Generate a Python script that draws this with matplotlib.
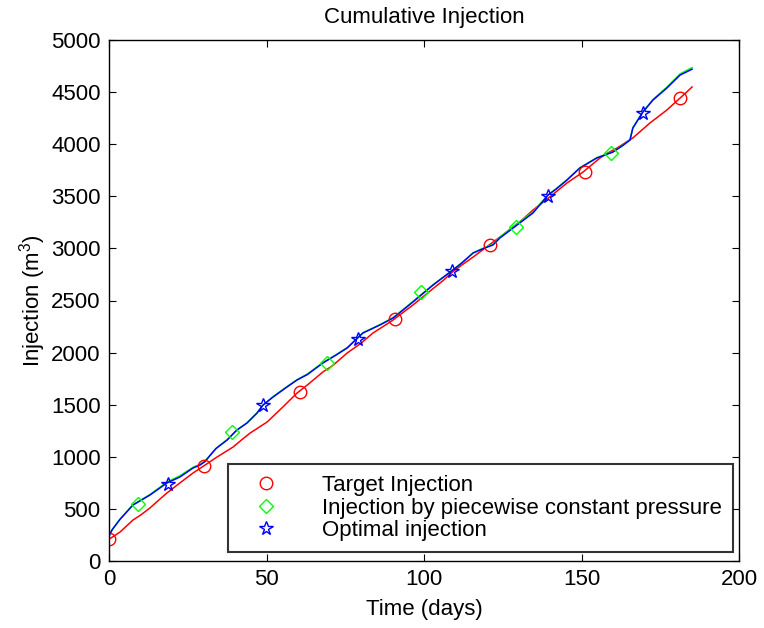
import matplotlib
matplotlib.use("Agg")
import matplotlib.pyplot as plt

plt.rcParams['font.family'] = ['Liberation Sans', 'DejaVu Sans']
plt.rcParams['mathtext.default'] = 'regular'

# ---- data ----
red_days = [0, 1, 3.5, 7.6, 10, 13, 16, 18.4, 22.5, 26.7, 30.5, 34.3, 39.4, 42, 44.8, 50.2,
            55.2, 59.7, 63, 67.9, 71, 75.6, 80, 83.8, 87, 90.2, 96.5, 102.9, 106, 109.2, 112,
            115.6, 121, 124.1, 128.3, 131, 134.6, 140, 145.4, 150.5, 155.9, 158, 161.3, 166.3,
            171.7, 174, 177.1, 181.3, 183, 185.1]
red_vals = [211, 228, 278, 393, 440, 509, 590, 653, 749, 845, 921, 998, 1094, 1160, 1228, 1334,
            1478, 1612, 1690, 1814, 1875, 1996, 2090, 2188, 2250, 2313, 2457, 2615, 2690, 2778, 2840,
            2917, 3040, 3109, 3205, 3270, 3368, 3495, 3628, 3733, 3868, 3910, 3964, 4060,
            4203, 4256, 4328, 4443, 4490, 4549]

blue_days = [0, 1, 3.5, 7.6, 13.0, 18.4, 22.5, 26.7, 28.9, 30.5, 32.0, 34.0, 37.5, 40.6, 43.8, 47.0,
             48.9, 52.1, 56.5, 59.7, 63, 67.9, 72, 75.6, 80.6, 86.0, 90.2, 93, 96.5, 102.9, 106,
             109.2, 112, 115.6, 119, 121.9, 124.1, 128.3, 134.6, 139.4, 142, 145.4, 149.5, 154.9,
             160.0, 163, 165.4, 166.3, 169.5, 172.7, 177.1, 181.3, 185.1]
blue_vals = [240, 300, 400, 537, 633, 749, 806, 893, 921, 955, 1010, 1080, 1161, 1257, 1324, 1420,
             1497, 1574, 1670, 1737, 1790, 1900, 1975, 2044, 2188, 2265, 2332, 2400, 2486, 2649, 2720,
             2793, 2860, 2956, 3000, 3033, 3100, 3196, 3340, 3512, 3570, 3656, 3772, 3868,
             3925, 3985, 4040, 4155, 4309, 4424, 4539, 4664, 4720]

green_days = blue_days
green_vals = [240, 300, 402, 540, 638, 758, 818, 900, 928, 960, 1012, 1082, 1165, 1257, 1326, 1422,
              1497, 1578, 1674, 1740, 1795, 1905, 1978, 2048, 2190, 2268, 2335, 2405, 2492, 2652, 2722,
              2795, 2862, 2958, 3005, 3040, 3108, 3210, 3350, 3515, 3575, 3660, 3775, 3872,
              3928, 3988, 4045, 4158, 4312, 4430, 4548, 4675, 4735]

red_mark_days = [0, 30.3, 60.5, 90.7, 120.8, 151, 181.2]
red_mark_vals = [211, 915, 1622, 2318, 3030, 3733, 4446]
green_mark_days = [9.1, 39.1, 69.1, 99.1, 129.3, 159.5]
green_mark_vals = [550, 1238, 1900, 2580, 3205, 3920]
blue_mark_days = [18.8, 48.9, 78.9, 109.0, 139.3, 169.4]
blue_mark_vals = [742, 1497, 2135, 2783, 3503, 4300]

labels = ['Target Injection', 'Injection by piecewise constant pressure', 'Optimal injection']
x_ticks = [0, 50, 100, 150, 200]
y_ticks = [0, 500, 1000, 1500, 2000, 2500, 3000, 3500, 4000, 4500, 5000]

RED, GREEN, BLUE = '#ff0000', '#00ff00', '#0000ff'
FS = 16

fig = plt.figure(figsize=(7.64, 6.28), dpi=100)
ax = fig.add_axes([109 / 764, (628 - 561) / 628, 630 / 764, 521 / 628])

ax.plot(red_days, red_vals, color=RED, lw=1.1)
ax.plot(green_days, green_vals, color=GREEN, lw=1.1)
ax.plot(blue_days, blue_vals, color=BLUE, lw=1.1)

ms = 9
ax.plot(red_mark_days, red_mark_vals, ls='none', marker='o', ms=ms, mfc='none', mec=RED,
        mew=1.0, label=labels[0])
ax.plot(green_mark_days, green_mark_vals, ls='none', marker='D', ms=ms * 0.78, mfc='none',
        mec=GREEN, mew=1.0, label=labels[1])
ax.plot(blue_mark_days, blue_mark_vals, ls='none', marker='*', ms=ms * 1.1, mfc='none',
        mec=BLUE, mew=1.0, label=labels[2])

ax.set_xlim(0, 200)
ax.set_ylim(0, 5000)
ax.set_xticks(x_ticks)
ax.set_yticks(y_ticks)
ax.tick_params(direction='in', top=True, right=True, length=5, width=0.8,
               labelsize=FS, pad=6, colors='black')
for s in ax.spines.values():
    s.set_linewidth(1.0)
    s.set_color('black')

ax.set_title('Cumulative Injection', fontsize=FS, pad=12)
ax.set_xlabel('Time (days)', fontsize=FS, labelpad=6)
ax.set_ylabel('Injection (m$^3$)', fontsize=FS, labelpad=2)

leg = ax.legend(loc='lower right', bbox_to_anchor=((733 - 109) / 630, (561 - 552) / 521),
                borderaxespad=0, fontsize=FS, frameon=True, fancybox=False,
                borderpad=0.5, handlelength=2.5, handletextpad=1.25, labelspacing=0.06)
leg.get_frame().set_edgecolor('black')
leg.get_frame().set_linewidth(1.5)

fig.savefig('out.png', dpi=100, facecolor='white')
